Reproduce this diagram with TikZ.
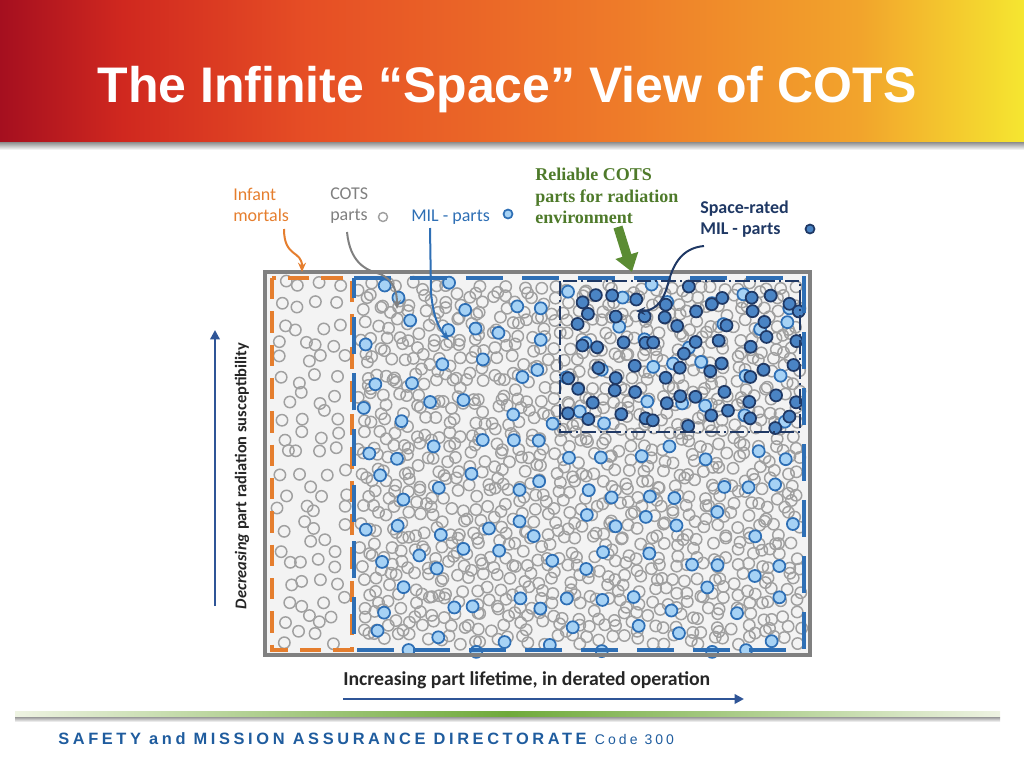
\documentclass[tikz,border=0pt]{standalone}
\usepackage{fontspec}
\setmainfont{Liberation Sans}
\newfontfamily\calibri{Carlito}
\newfontfamily\timesbold{Liberation Serif}
\newfontfamily\footfont[LetterSpace=22]{Liberation Sans}
\usetikzlibrary{arrows.meta,positioning,calc}

\definecolor{bandA}{HTML}{A50F1F}
\definecolor{bandB}{HTML}{D0281F}
\definecolor{bandC}{HTML}{E64E25}
\definecolor{bandD}{HTML}{EE7A29}
\definecolor{bandE}{HTML}{F2A42C}
\definecolor{bandF}{HTML}{F5E630}
\definecolor{footlight}{HTML}{EEF3E2}
\definecolor{footgreen}{HTML}{6FAA3A}
\definecolor{framegray}{HTML}{808080}
\definecolor{panelfill}{HTML}{F3F3F3}
\definecolor{ringgray}{HTML}{A0A0A0}
\definecolor{infantorange}{HTML}{E57E2E}
\definecolor{milblue}{HTML}{2E6FB5}
\definecolor{milfill}{HTML}{A6D2F5}
\definecolor{navy}{HTML}{1F3864}
\definecolor{spacefill}{HTML}{4A84C4}
\definecolor{relgreen}{HTML}{4E7A2A}
\definecolor{arrowgreen}{HTML}{5B8C33}
\definecolor{axisblue}{HTML}{2F5597}
\definecolor{footblue}{HTML}{1F5C9E}

\pgfdeclarehorizontalshading{titleband}{100bp}{color(0bp)=(bandA); color(25bp)=(bandA);
  color(31bp)=(bandB); color(40bp)=(bandC); color(55bp)=(bandD); color(67bp)=(bandE);
  color(75bp)=(bandF); color(100bp)=(bandF)}
\pgfdeclarehorizontalshading{footband}{100bp}{color(0bp)=(footlight); color(25bp)=(footlight);
  color(50bp)=(footgreen); color(75bp)=(footlight); color(100bp)=(footlight)}

\begin{document}
\begin{tikzpicture}[x=0.75pt,y=-0.75pt,
    ring/.style={draw=ringgray,line width=1.1pt},
    milring/.style={draw=milblue,fill=milfill,line width=1.3pt},
    spacering/.style={draw=navy,fill=spacefill,line width=1.3pt},
    lbl/.style={inner sep=0pt,anchor=north west,align=left,font=\calibri\fontsize{13.5}{15.75}\selectfont},
    pointer/.style={line width=1.5pt,-{Stealth[length=7pt,width=6pt]}},
    axisarrow/.style={draw=axisblue,line width=1.8pt,-{Triangle[length=7pt,width=7pt]}}]
\useasboundingbox (0,0) rectangle (1024,768);

% title band and footer
\shade[shading=titleband] (0,0) rectangle (1024,142);
\shade[top color=black!45,bottom color=white] (0,142) rectangle (1024,150);
\node[anchor=base,text=white,font=\fontsize{37.5}{40}\selectfont\bfseries] (title) at (507,102)
  {The Infinite “Space” View of COTS};
\shade[shading=footband] (15,711) rectangle (1000,717);
\shade[top color=black!40,bottom color=white] (15,717) rectangle (1000,722);
\node[anchor=base west,inner sep=0pt,text=footblue] (footer) at (58,744)
  {\footfont\fontsize{12.3}{14}\selectfont\bfseries SAFETY and MISSION ASSURANCE DIRECTORATE
   \mdseries\fontsize{10.5}{12}\selectfont Code 300};

% panel
\fill[panelfill] (265,272) rectangle (810,655);
\pgfmathsetseed{31}
\foreach \gx in {0,...,3}\foreach \gy in {0,...,19}{
  \pgfmathsetmacro\cx{285+18*\gx+16*(rnd-.5)}\pgfmathsetmacro\cy{288+18.4*\gy+14*(rnd-.5)}
  \draw[ring] (\cx,\cy) circle[radius=5.7];}
\foreach \gx in {0,...,36}\foreach \gy in {0,...,29}{
  \pgfmathsetmacro\cx{364+12*\gx+12*(rnd-.5)}\pgfmathsetmacro\cy{288+12.1*\gy+12*(rnd-.5)}
  \draw[ring] (\cx,\cy) circle[radius=5.7];}
\foreach \gx in {0,...,12}\foreach \gy in {0,...,9}{
  \pgfmathsetmacro\cx{374+34*\gx+26*(rnd-.5)}\pgfmathsetmacro\cy{296+38*\gy+28*(rnd-.5)}
  \draw[milring] (\cx,\cy) circle[radius=6];}
\foreach \gx in {0,...,10}\foreach \gy in {0,...,5}{
  \pgfmathsetmacro\cx{575+21.5*\gx+18*(rnd-.5)}\pgfmathsetmacro\cy{295+25*\gy+20*(rnd-.5)}
  \draw[spacering] (\cx,\cy) circle[radius=6];}

% frames
\draw[framegray,line width=3.6pt] (265,272) rectangle (810,655);
\draw[infantorange,line width=3.6pt,dash pattern=on 16pt off 9pt] (272,278) rectangle (352,650);
\draw[milblue,line width=3pt,dash pattern=on 28pt off 14pt] (354,278) -- (804,278) -- (804,650) -- (354,650) -- cycle;
\draw[navy,line width=2pt,dash pattern=on 11pt off 3pt on 1.5pt off 3pt] (560,281) rectangle (800,432);

% labels
\node[lbl,text=infantorange] (infant) at (233,188) {Infant\\mortals};
\node[lbl,text=framegray] (cots) at (330,188) {COTS\\parts};
\draw[ring] (383,217) circle[radius=4.5];
\node[lbl,text=milblue,anchor=base west] (mil) at (411,221) {MIL - parts};
\draw[milring] (508,214) circle[radius=4.5];
\node[lbl,text=relgreen,font=\timesbold\bfseries\fontsize{13.5}{16.2}\selectfont] (reliable) at (535,168)
  {Reliable COTS\\parts for radiation\\environment};
\node[lbl,text=navy,font=\calibri\bfseries\fontsize{13.5}{15.75}\selectfont] (spacemil) at (700,201)
  {Space-rated\\MIL - parts};
\draw[spacering] (810,229) circle[radius=4.5];

% pointers
\coordinate (infanttip) at (302,272);
\coordinate (cotstip) at (397,309);
\coordinate (miltip) at (449,340);
\coordinate (spacetip) at (636,311);
\coordinate (greentip) at (632,272);
\draw[pointer,infantorange] (284,229) .. controls (284,258) and (302,250) .. (infanttip);
\draw[pointer,framegray] (347,232) .. controls (350,262) and (365,270) .. (380,274)
  .. controls (394,280) and (397,292) .. (cotstip);
\draw[pointer,milblue] (430,228) -- (431,292) .. controls (433,318) and (440,330) .. (miltip);
\draw[pointer,navy] (704,246) .. controls (682,248) and (673,264) .. (668,284)
  .. controls (662,306) and (652,311) .. (spacetip);
\draw[arrowgreen,line width=7pt,-{Triangle[length=13pt,width=17pt]}] (618,227) -- (greentip);

% axes
\coordinate (vbot) at (215,606);
\coordinate (vtop) at (215,330);
\coordinate (hleft) at (343,699);
\coordinate (hright) at (744,699);
\draw[axisarrow] (vbot) -- (vtop);
\draw[axisarrow] (hleft) -- (hright);
\node[rotate=90,inner sep=0pt,text=black!85,font=\calibri\bfseries\fontsize{12.3}{14}\selectfont] (vlabel) at (242,476)
  {\textit{Decreasing} part radiation susceptibility};
\node[anchor=base west,inner sep=0pt,text=black!85,font=\calibri\bfseries\fontsize{14.8}{16}\selectfont] (hlabel) at (343,685)
  {Increasing part lifetime, in derated operation};
\end{tikzpicture}
\end{document}
